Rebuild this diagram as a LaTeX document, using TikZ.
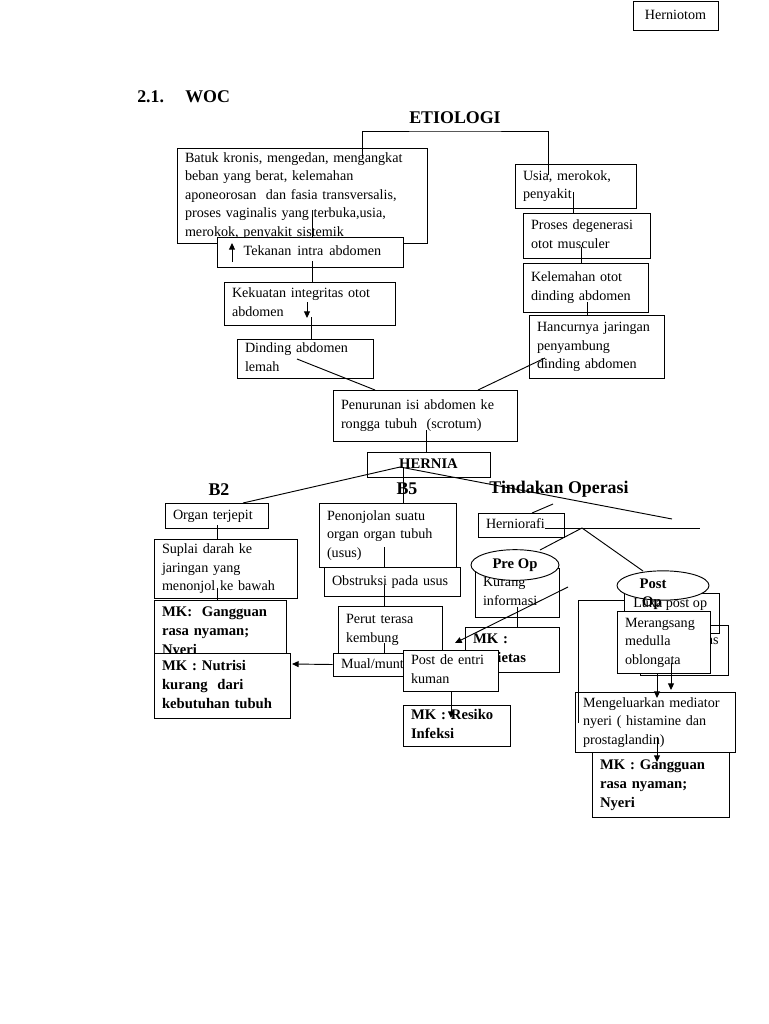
\documentclass[tikz,border=0pt]{standalone}
\usepackage{fontspec}
\setmainfont{Liberation Serif}
\usetikzlibrary{arrows.meta,shapes.geometric}
\newcommand\mybox[7][]{%
  \pgfmathsetmacro\bw{(#5-#3)*0.75}%
  \pgfmathsetmacro\bh{(#6-#4)*0.75}%
  \pgfmathsetmacro\tw{(#5-#3)*0.75-12}%
  \node[box, minimum width=\bw pt, minimum height=\bh pt, text width=\tw pt, #1] (#2) at ({(#3+#5)/2},{(#4+#6)/2}) {\begin{tabular}{@{}l@{}}#7\end{tabular}};}
\begin{document}
\begin{tikzpicture}[x=0.75pt,y=-0.75pt,
  every node/.style={font=\fontsize{10.6}{13.9}\selectfont},
  box/.style={draw, line width=0.7pt, align=left, inner xsep=6pt, inner ysep=0pt},
  bf/.style={font=\fontsize{11}{14.2}\selectfont\bfseries},
  head/.style={font=\fontsize{13.4}{16}\selectfont\bfseries, inner sep=0pt},
  ln/.style={line width=0.7pt},
  arr/.style={ln, -{Triangle[length=5pt,width=4.5pt]}},
  oval/.style={draw, ellipse, fill=white, line width=0.7pt, inner sep=0pt},
]
\fill[white] (0,0) rectangle (768,1024);
\useasboundingbox (0,0) rectangle (768,1024);

% header
\mybox[align=center]{hern}{633}{1}{718}{30}{Herniotom}
\node[head, anchor=west] (num) at (137,97) {2.1.};
\node[head, anchor=west] (woc) at (185,97) {WOC};
\node[head] (etio) at (455,118) {ETIOLOGI};

% etiology
\mybox{batuk}{177}{148}{427}{243}{Batuk kronis, mengedan, mengangkat\\beban yang berat, kelemahan\\aponeorosan\ \ dan fasia transversalis,\\proses vaginalis yang terbuka,usia,\\merokok, penyakit sistemik}
\mybox{usia}{515}{164}{636}{208}{Usia, merokok,\\penyakit}
\mybox{proses}{523}{213}{650}{258}{Proses degenerasi\\otot musculer}
\mybox{kelemahan}{523}{263}{648}{312}{Kelemahan otot\\dinding abdomen}
\mybox{hancur}{529}{315}{664}{378}{Hancurnya jaringan\\penyambung\\dinding abdomen}
\coordinate (t1) at (362,158);
\coordinate (tm) at (455,131);
\coordinate (t2) at (548,175);
\draw[ln] (t1) |- (tm) -| (t2);
\coordinate (a1) at (312,210);
\draw[ln] (a1) -- (a1 |- batuk.south);
\mybox[fill=white]{tekanan}{217}{237}{403}{267}{\hspace*{14pt}Tekanan\hspace{1pt} intra\hspace{1pt} abdomen}
\coordinate (up1) at (232,262);
\draw[arr] (up1) -- ++(0,-19);
\mybox{kekuatan}{224}{282}{395}{325}{Kekuatan integritas otot\\abdomen}
\mybox{dinding}{237}{339}{373}{378}{Dinding abdomen\\lemah}
\mybox{penurunan}{333}{390}{517}{441}{Penurunan isi abdomen ke\\rongga tubuh\ \ (scrotum)}
\mybox[bf,align=center]{hernia}{367}{452}{490}{477}{HERNIA}

\coordinate (a2) at (312,261);
\draw[ln] (a2) -- (a2 |- kekuatan.north);
\coordinate (k1) at (307,302);
\draw[arr] (k1) -- ++(0,16);
\coordinate (a3) at (311,317);
\draw[ln] (a3) -- (a3 |- dinding.north);
\coordinate (d1) at (297,359);
\coordinate (d2) at (375,390);
\draw[ln] (d1) -- (d2);
\coordinate (r1) at (573,192);
\draw[ln] (r1) -- (r1 |- proses.north);
\coordinate (r2) at (581,247);
\draw[ln] (r2) -- (r2 |- kelemahan.north);
\coordinate (r3) at (587,302);
\draw[ln] (r3) -- (r3 |- hancur.north);
\coordinate (r4) at (545,358);
\coordinate (r5) at (478,390);
\draw[ln] (r4) -- (r5);
\coordinate (p1) at (426,430);
\draw[ln] (p1) -- (p1 |- hernia.north);

% branch heads
\node[head] (b2) at (219,490) {B2};
\node[head] (b5) at (407,489) {B5};
\node[head] (tind) at (559,489) {Tindakan Operasi};

% B2
\mybox{organ}{165}{503}{268}{528}{Organ terjepit}
\mybox{suplai}{154}{539}{297}{598}{Suplai darah ke\\jaringan yang\\menonjol ke bawah}
\mybox[bf]{mkg1}{154}{600}{286}{664}{MK:\ \ Gangguan\\rasa nyaman;\\Nyeri}
\coordinate (s1) at (217,525);
\draw[ln] (s1) -- (s1 |- suplai.north);
\coordinate (s2) at (217,588);
\draw[ln] (s2) -- (s2 |- mkg1.north);
\mybox[bf,fill=white]{nutrisi}{154}{653}{290}{718}{MK : Nutrisi\\kurang\ \ dari\\kebutuhan tubuh}

% B5
\mybox{penonjolan}{319}{503}{456}{567}{Penonjolan suatu\\organ organ tubuh\\(usus)}
\mybox{obstruksi}{324}{567}{460}{596}{Obstruksi pada usus}
\mybox{perut}{338}{606}{442}{653}{Perut terasa\\kembung}
\mybox{mual}{333}{653}{420}{676}{Mual/muntah}
\coordinate (u1) at (384,547);
\draw[ln] (u1) -- (u1 |- obstruksi.north);
\coordinate (u2) at (384,585);
\draw[ln] (u2) -- (u2 |- perut.north);
\coordinate (u3) at (384,643);
\draw[ln] (u3) -- (u3 |- mual.north);
\coordinate (m1) at (292,664);
\draw[arr] (mual.west) -- (m1);

% Tindakan operasi
\mybox{herniorafi}{478}{513}{564}{537}{Herniorafi}
\mybox{kurang}{475}{568}{559}{617}{Kurang\\informasi}
\node[oval, minimum width=66pt, minimum height=23pt] (preop) at (515,565) {};
\node[bf, inner sep=0pt] (preopt) at (515,565) {Pre Op};
\mybox[bf]{ansietas}{465}{627}{559}{672}{MK :\\Ansietas}
\coordinate (q1) at (517,607);
\draw[ln] (q1) -- (q1 |- ansietas.north);
\mybox[fill=white]{postde}{403}{650}{498}{691}{Post de entri\\kuman}
\mybox[bf]{resiko}{403}{705}{510}{746}{MK : Resiko\\Infeksi}
\coordinate (q2) at (568,587);
\coordinate (q3) at (455,643);
\draw[arr] (q2) -- (q3);
\coordinate (q4) at (451,718);
\draw[arr] (postde.south -| q4) -- (q4);

% post op
\mybox{asbox}{640}{625}{728}{675}{}
\node[anchor=east, inner sep=0pt] (ast) at (719,641) {as};
\mybox{luka}{624}{593}{719}{633}{}
\node[anchor=north west, inner sep=0pt] (lukat) at (633,597) {Luka post op};
\node[oval, minimum width=69pt, minimum height=22pt] (postop) at (663,585.5) {};
\node[bf, inner sep=0pt] (postt) at (653,584) {Post};
\node[bf, inner sep=0pt] (opt) at (652,603) {Op};
\mybox[fill=white]{merangsang}{617}{611}{710}{673}{Merangsang\\medulla\\oblongata}
\mybox{meng}{575}{692}{735}{752}{Mengeluarkan mediator\\nyeri ( histamine dan\\prostaglandin)}
\mybox[bf]{mkg2}{592}{752}{729}{817}{MK : Gangguan\\rasa nyaman;\\Nyeri}
\coordinate (L1) at (578,723);
\coordinate (L2) at (624,600);
\draw[ln] (L1) |- (L2);
\coordinate (v1) at (657,673);
\draw[arr] (v1) -- ++(0,25);
\coordinate (v2) at (671,663);
\draw[arr] (v2) -- ++(0,27);
\coordinate (v3) at (657,737);
\draw[arr] (v3) -- ++(0,25);

% hernia fan and operation lines
\coordinate (H) at (400,467);
\coordinate (h1) at (243,503);
\coordinate (h2) at (672,519);
\coordinate (h3) at (403,467);
\draw[ln] (H) -- (h1);
\draw[ln] (H) -- (h2);
\draw[ln] (h3) -- (h3 |- penonjolan.north);
\coordinate (o1) at (532,513);
\coordinate (o2) at (553,504);
\draw[ln] (o1) -- (o2);
\coordinate (o3) at (545,528);
\coordinate (o4) at (700,528);
\draw[ln] (o3) -- (o4);
\coordinate (J) at (582,528);
\coordinate (j1) at (540,550);
\coordinate (j2) at (643,571);
\draw[ln] (J) -- (j1);
\draw[ln] (J) -- (j2);
\end{tikzpicture}
\end{document}
